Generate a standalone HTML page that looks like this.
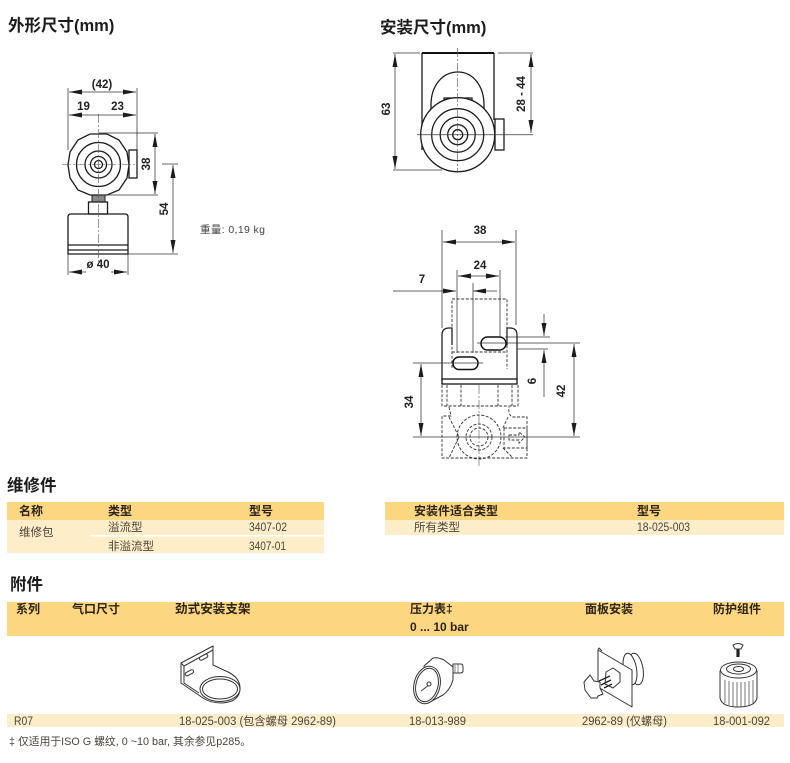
<!DOCTYPE html>
<html><head><meta charset="utf-8"><style>
html,body{margin:0;padding:0;background:#fff}
svg{display:block}
text{font-family:"Liberation Sans","Noto Sans CJK SC",sans-serif}
.t{font-size:16.5px;font-weight:700;fill:#1c1c1c}
.d{font-size:11.5px;font-weight:700;fill:#222;text-anchor:middle;dominant-baseline:central}
.h{font-size:12px;font-weight:700;fill:#2b2418}
.b{font-size:11.5px;fill:#4a453c}
.l{stroke:#333;stroke-width:.75;fill:none}
.m{stroke:#1c1c1c;stroke-width:1.3;fill:none}
.w{stroke:#1c1c1c;stroke-width:1.3;fill:#fff}
.c{stroke:#555;stroke-width:.6;fill:none;stroke-dasharray:9 2 2 2}
.x{stroke:#333;stroke-width:.9;fill:none;stroke-dasharray:3 1.6}
.i{stroke:#333;stroke-width:1;fill:#fff;stroke-linejoin:round}
</style></head><body>
<svg width="790" height="763" viewBox="0 0 790 763" xmlns="http://www.w3.org/2000/svg">
<defs>
<marker id="a" viewBox="0 0 13 6" refX="13" refY="3" markerWidth="13" markerHeight="6" markerUnits="userSpaceOnUse" orient="auto-start-reverse"><path d="M0 .5L13 3L0 5.500Z" fill="#1c1c1c"/></marker>
</defs>
<rect width="790" height="763" fill="#fff"/>

<text x="8" y="31" class="t">外形尺寸(mm)</text>
<text x="380" y="33" class="t">安装尺寸(mm)</text>

<!-- Drawing 1 -->
<g>
<rect class="m" x="129" y="150" width="8" height="28"/>
<rect x="92" y="195" width="13" height="7" fill="#888" stroke="#222" stroke-width="1"/>
<rect class="m" x="88.5" y="202" width="19" height="12"/>
<path class="m" d="M68 217q0-3 3-3h54q3 0 3 3v37H68Z" fill="#fff"/>
<path class="m" d="M68 245H128M68 250H128" stroke-width="1.400"/>
<path class="w" stroke-width="1.600" d="M90 134L107 134L119 140L127 152L129 165L127 178L119 190L107 195L90 195L78 190L70 178L68 165L70 152L78 140Z"/>
<circle class="m" cx="98.500" cy="164.500" r="22"/>
<circle class="m" cx="98.500" cy="164.500" r="13.500"/>
<circle class="m" cx="98.500" cy="164.500" r="8"/>
<circle class="m" cx="98.500" cy="164.500" r="4"/>
<path class="c" d="M98.500 114V266M62 164.500H135"/>
<path class="l" d="M68 88V150M137 88V150M99 133H158M99 195H158M162 164H178M128 254H178M68 254V275M128 254V275"/>
<path class="l" d="M69 92H136" marker-start="url(#a)" marker-end="url(#a)"/>
<path class="l" d="M69 115H136" marker-start="url(#a)" marker-end="url(#a)"/>
<path class="l" d="M155 134V194" marker-start="url(#a)" marker-end="url(#a)"/>
<path class="l" d="M173 165V253" marker-start="url(#a)" marker-end="url(#a)"/>
<path class="l" d="M86 272H69" marker-end="url(#a)"/><path class="l" d="M111 272H127" marker-end="url(#a)"/>
<text class="d" x="102" y="85">(42)</text>
<text class="d" x="83.500" y="107">19</text>
<text class="d" x="117.500" y="107">23</text>
<text class="d" x="98" y="265">ø 40</text>
<text class="d" transform="translate(147 164) rotate(-90)">38</text>
<text class="d" transform="translate(165 209) rotate(-90)">54</text>
</g>
<text x="200" y="233" style="font-size:10.500px;fill:#444" textLength="65">重量: 0,19 kg</text>

<!-- Drawing 2 -->
<g>
<path class="m" d="M422 53V150M494 53V120"/>
<path d="M422 53H494" stroke="#111" stroke-width="2"/>
<rect class="m" x="495" y="119" width="9" height="31"/>
<path class="w" d="M431 105C431 86 442 72 458 72C473 72 484 86 484 105V120H431Z"/>
<path class="w" d="M444 100V98H472V100"/>
<circle class="w" cx="457.700" cy="134.700" r="37" stroke-width="1.800"/>
<circle class="m" cx="457.700" cy="134.700" r="26"/>
<circle class="m" cx="457.700" cy="134.700" r="17.500"/>
<circle class="m" cx="457.700" cy="134.700" r="10"/>
<circle class="m" cx="457.700" cy="134.700" r="5"/>
<path class="c" d="M457.700 48V173"/>
<path class="l" d="M393 53H420M393 170H442M498 53H533M417 134.700H533"/>
<path class="l" d="M395 54V169" marker-start="url(#a)" marker-end="url(#a)"/>
<path class="l" d="M531 54V133" marker-start="url(#a)" marker-end="url(#a)"/>
<text class="d" transform="translate(387 109) rotate(-90)">63</text>
<text class="d" transform="translate(522 94) rotate(-90)">28 - 44</text>
</g>

<!-- Drawing 3 -->
<g>
<path class="x" d="M452 368V299H507V369M452 352H507"/>
<path d="M442 380V335Q442 328 449 328H452V345M507 345V328H510Q517 328 517 335V380" fill="none" stroke="#222" stroke-width="1.300"/>
<rect x="442" y="379" width="75" height="5" fill="#fff" stroke="#111" stroke-width="1.300"/>
<rect x="481" y="337" width="25" height="13" rx="6.500" fill="#fff" stroke="#111" stroke-width="1.500"/>
<rect x="453" y="357" width="25" height="12.500" rx="6" fill="#fff" stroke="#111" stroke-width="1.500"/>
<path class="x" d="M442 385V406H518V385M447 385V406M461 385V406M498 385V406M512 385V406"/>
<path class="x" d="M449 407L451 416H442V458H527V417H512Q508 414 509 407M504 428H527V448H504V428M449 417L459 437L449 458M508 417L503 428M503 448L513 458"/>
<circle class="x" cx="479" cy="437" r="22"/><circle class="x" cx="479" cy="437" r="13"/><circle class="x" cx="479" cy="437" r="9"/>
<path class="x" d="M509 435H519V432L525 437L519 443V440H509Z"/>
<path class="l" d="M442 230V328M516 230V325M457 270V353M500 270V337M473 283V353M505 337H550M517 349H548M477 343H580M413 363H483M413 437H580"/>
<path class="c" d="M479 385V466"/>
<path class="l" d="M443 242H515" marker-start="url(#a)" marker-end="url(#a)"/>
<path class="l" d="M458 276H499" marker-start="url(#a)" marker-end="url(#a)"/>
<path class="l" d="M393 291H456" marker-end="url(#a)"/>
<path class="l" d="M497 291H473" marker-end="url(#a)"/>
<path class="l" d="M544 314V336" marker-end="url(#a)"/>
<path class="l" d="M544 397V350" marker-end="url(#a)"/>
<path class="l" d="M574 344V436" marker-start="url(#a)" marker-end="url(#a)"/>
<path class="l" d="M421 364V436" marker-start="url(#a)" marker-end="url(#a)"/>
<text class="d" x="480" y="231">38</text>
<text class="d" x="480" y="266">24</text>
<text class="d" x="422" y="280">7</text>
<text class="d" transform="translate(533 381) rotate(-90)">6</text>
<text class="d" transform="translate(562 391) rotate(-90)">42</text>
<text class="d" transform="translate(410 402) rotate(-90)">34</text>
</g>

<!-- Table 1 -->
<text x="7" y="491" class="t">维修件</text>
<rect x="7" y="502" width="317" height="18" fill="#fdd681"/>
<rect x="7" y="520" width="317" height="33" fill="#feedc9"/>
<rect x="90" y="535" width="234" height="1.500" fill="#fff"/>
<text class="h" x="19" y="515">名称</text><text class="h" x="108" y="515">类型</text><text class="h" x="249" y="515">型号</text>
<text class="b" x="19" y="536">维修包</text><text class="b" x="108" y="531">溢流型</text><text class="b" x="249" y="531" textLength="38" lengthAdjust="spacingAndGlyphs">3407-02</text>
<text class="b" x="108" y="550">非溢流型</text><text class="b" x="249" y="550" textLength="37" lengthAdjust="spacingAndGlyphs">3407-01</text>

<!-- Table 2 -->
<rect x="385" y="502" width="399" height="18" fill="#fdd681"/>
<rect x="385" y="520" width="399" height="15" fill="#feedc9"/>
<text class="h" x="414" y="515">安装件适合类型</text><text class="h" x="637" y="515">型号</text>
<text class="b" x="414" y="531">所有类型</text><text class="b" x="637" y="531" textLength="53" lengthAdjust="spacingAndGlyphs">18-025-003</text>

<!-- Accessories -->
<text x="10" y="590" class="t">附件</text>
<rect x="7" y="602" width="777" height="34" fill="#fdd681"/>
<text class="h" x="16" y="613">系列</text><text class="h" x="72" y="613">气口尺寸</text><text class="h" x="175" y="613" style="font-size:12.600px">劲式安装支架</text>
<text class="h" x="410" y="613">压力表‡</text><text class="h" x="410" y="631">0 ... 10 bar</text>
<text class="h" x="585" y="613">面板安装</text><text class="h" x="713" y="613">防护组件</text>

<!-- bracket icon -->
<path class="i" d="M213 646L181 663V683L203 698Q210 703 222 703Q240 702 240 688Q240 678 228 672L213 665Z" stroke-width="1.200"/>
<path class="i" d="M181 663L184 666V683L199 693M184 666L213 650"/>
<ellipse class="i" cx="220" cy="689" rx="20" ry="12.500"/>
<ellipse class="i" cx="220" cy="689" rx="17.500" ry="10"/>
<rect class="i" x="199" y="655.500" width="9" height="3.500" rx="1.700" transform="rotate(-28 203.500 657)"/>
<rect class="i" x="185" y="671" width="9" height="3.500" rx="1.700" transform="rotate(-28 189.500 673)"/>

<!-- gauge -->
<path class="i" d="M453 664H461Q463 664 463 667V671Q463 673 460 673H453Z"/>
<path d="M455 665V673M458 664V673" stroke="#555" stroke-width=".7"/>
<path class="i" d="M424 666L433 658Q438 657 444 660L453 667V680Q450 690 443 695L428 703Z"/>
<ellipse class="i" cx="427" cy="685" rx="13" ry="19" stroke-width="1.300" transform="rotate(14 427 685)"/>
<ellipse class="i" cx="427" cy="685" rx="11" ry="17" transform="rotate(14 427 685)"/>
<path d="M421 691L429 685" stroke="#333" stroke-width=".8"/><circle class="i" cx="429" cy="684" r="2"/>

<!-- panel mount -->
<ellipse class="i" cx="636" cy="669" rx="7" ry="16" transform="rotate(-10 636 669)"/>
<ellipse class="i" cx="630" cy="669" rx="6.500" ry="16" transform="rotate(-10 630 669)"/>
<path class="i" d="M598 650L632 670V707L598 687Z"/>
<path class="i" d="M598 650L599 648L602 651"/>
<path class="i" d="M606 672L613 668L620 673V682L613 688L605 684Z"/>
<path d="M603 672L601 685M608 672L606 687" stroke="none"/>
<path d="M599 681L610 676M601 685L611 680M604 688L612 684" stroke="#222" stroke-width="1.400"/>
<path class="i" d="M584 682L590 675L594 681L600 682L600 688L603 694L598 696L597 698L591 698L588 694L585 690Z"/>

<!-- cap -->
<path d="M738 648V657" stroke="#222" stroke-width="3.200"/>
<path class="i" d="M733 645Q738 642 743 645L741 649H735Z"/>
<path class="i" d="M720 671V698Q722 707 738 707Q755 707 757 698V671Z"/>
<ellipse class="i" cx="738.500" cy="670" rx="18" ry="8"/>
<ellipse class="i" cx="738.500" cy="669" rx="12" ry="5"/>
<ellipse class="i" cx="738.500" cy="669" rx="5" ry="2.500"/>
<path d="M725 680V703M729 681V705M733 682V706M737 682V707M741 682V707M745 682V706M749 681V705M753 680V703" stroke="#555" stroke-width=".8" fill="none"/>

<rect x="7" y="714" width="777" height="13" fill="#feedc9"/>
<text class="b" x="14" y="725" textLength="19" lengthAdjust="spacingAndGlyphs">R07</text>
<text class="b" x="179" y="725" textLength="157" lengthAdjust="spacingAndGlyphs">18-025-003 (包含螺母 2962-89)</text>
<text class="b" x="409" y="725" textLength="57" lengthAdjust="spacingAndGlyphs">18-013-989</text>
<text class="b" x="582" y="725" textLength="85" lengthAdjust="spacingAndGlyphs">2962-89 (仅螺母)</text>
<text class="b" x="713" y="725" textLength="57" lengthAdjust="spacingAndGlyphs">18-001-092</text>
<text x="9" y="745" style="font-size:10.800px;fill:#4a453c" textLength="242" lengthAdjust="spacingAndGlyphs">‡ 仅适用于ISO G 螺纹, 0 ~10 bar, 其余参见p285。</text>
</svg>
</body></html>
